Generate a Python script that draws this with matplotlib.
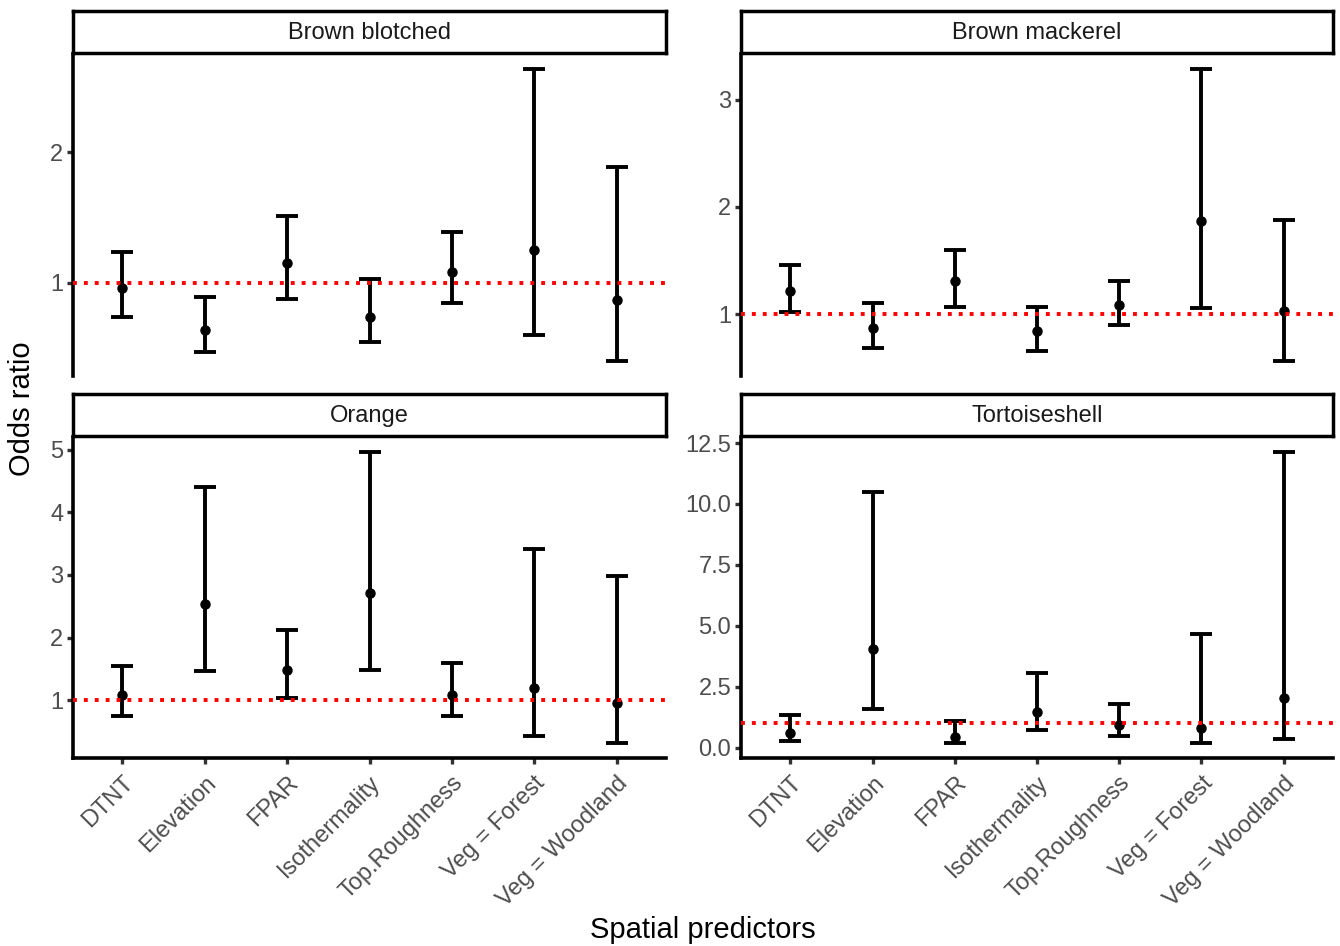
import matplotlib.pyplot as plt
import numpy as np

plt.rcParams['font.family'] = ['Liberation Sans', 'DejaVu Sans']

# predictors on the x axis (same order in every panel)
predictors = ["DTNT", "Elevation", "FPAR", "Isothermality", "Top.Roughness",
              "Veg = Forest", "Veg = Woodland"]
species = ["Brown blotched", "Brown mackerel", "Orange", "Tortoiseshell"]

# odds ratios and 95% CI
bb_or = [0.96, 0.64, 1.15, 0.74, 1.08, 1.25, 0.87]
bb_lo = [0.74, 0.47, 0.88, 0.55, 0.85, 0.60, 0.40]
bb_hi = [1.24, 0.89, 1.51, 1.03, 1.39, 2.64, 1.89]

bm_or = [1.22, 0.87, 1.31, 0.84, 1.09, 1.87, 1.03]
bm_lo = [1.02, 0.68, 1.07, 0.66, 0.90, 1.06, 0.56]
bm_hi = [1.46, 1.10, 1.60, 1.07, 1.31, 3.29, 1.88]

or_or = [1.08, 2.54, 1.48, 2.71, 1.09, 1.20, 0.95]
or_lo = [0.75, 1.47, 1.04, 1.48, 0.74, 0.43, 0.31]
or_hi = [1.55, 4.41, 2.12, 4.97, 1.60, 3.41, 2.98]

ts_or = [0.58, 4.04, 0.44, 1.47, 0.92, 0.81, 2.05]
ts_lo = [0.26, 1.57, 0.19, 0.71, 0.48, 0.17, 0.34]
ts_hi = [1.33, 10.50, 1.09, 3.08, 1.77, 4.66, 12.15]

y_ticks = [[1, 2], [1, 2, 3], [1, 2, 3, 4, 5], [0, 2.5, 5, 7.5, 10, 12.5]]
y_fmt = ["{:g}", "{:g}", "{:g}", "{:.1f}"]

panels = [(bb_or, bb_lo, bb_hi), (bm_or, bm_lo, bm_hi),
          (or_or, or_lo, or_hi), (ts_or, ts_lo, ts_hi)]

W, H = 1340, 946
fig = plt.figure(figsize=(W / 100, H / 100), dpi=100)


def px_axes(x0, y0, x1, y1, **kw):
    return fig.add_axes([x0 / W, 1 - y1 / H, (x1 - x0) / W, (y1 - y0) / H], **kw)


cols = [(73, 666), (741, 1333)]
rows = [(11, 54, 376), (394, 437, 758)]   # strip top, panel top, panel bottom

x = np.arange(len(predictors))
for i, (name, (est, lo, hi)) in enumerate(zip(species, panels)):
    r, c = divmod(i, 2)
    st, pt, pb = rows[r]
    x0, x1 = cols[c]

    ax = px_axes(x0, pt, x1, pb)
    ax.patch.set_alpha(0)
    est, lo, hi = np.array(est), np.array(lo), np.array(hi)
    ax.errorbar(x, est, yerr=[est - lo, hi - est], fmt='none', ecolor='black',
                elinewidth=2.8, capsize=7.8, capthick=2.8, zorder=2)
    ax.plot(x, est, 'o', color='black', markersize=6.5, zorder=3)
    ax.axhline(1, color='red', linestyle=(0, (1, 1.8)), linewidth=2.8, zorder=4)

    span = hi.max() - lo.min()
    ax.set_ylim(lo.min() - 0.05 * span, hi.max() + 0.05 * span)
    ax.set_xlim(-0.6, len(predictors) - 0.4)
    ax.set_yticks(y_ticks[i])
    ax.set_yticklabels([y_fmt[i].format(v) for v in y_ticks[i]])

    for s in ['top', 'right']:
        ax.spines[s].set_visible(False)
    ax.spines['left'].set_linewidth(2.6)
    ax.spines['bottom'].set_linewidth(2.6)
    ax.tick_params(axis='y', length=4, width=2.4, color='#333333',
                   labelsize=17, labelcolor='#4D4D4D', pad=3)
    if r == 0:
        ax.spines['bottom'].set_visible(False)
        ax.set_xticks([])
    else:
        ax.set_xticks(x)
        ax.set_xticklabels(predictors, rotation=45, ha='right', va='top',
                           rotation_mode='anchor')
        ax.tick_params(axis='x', length=4, width=2.4, color='#333333',
                       labelsize=17, labelcolor='#4D4D4D', pad=6)

    # strip on top of the panel
    sax = px_axes(x0, st, x1, pt - 1, zorder=5)
    sax.set_xticks([])
    sax.set_yticks([])
    for s in sax.spines.values():
        s.set_linewidth(2.5)
    sax.text(0.5, 0.47, name, ha='center', va='center', fontsize=17,
             color='#1A1A1A', transform=sax.transAxes)

fig.text(22 / W, 1 - 409 / H, "Odds ratio", rotation=90, ha='center',
         va='center', fontsize=21)
fig.text(703 / W, 1 - 930 / H, "Spatial predictors", ha='center',
         va='center', fontsize=21)

fig.savefig("out.png", dpi=100)
